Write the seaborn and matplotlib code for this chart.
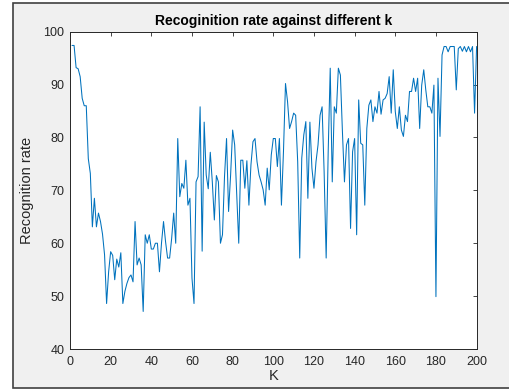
import numpy as np
import pandas as pd
import matplotlib
matplotlib.use("Agg")
import matplotlib.pyplot as plt
import matplotlib.patches as patches
import seaborn as sns

# -------------------------------------------------------------------
# Data (recognition rate for k = 1..200)
# -------------------------------------------------------------------

k_values = list(range(1, 201))

rate_1_50 = [
    97.4, 97.4, 93.2, 93.0, 91.5, 87.4, 86.0, 86.0, 76.0, 73.2,
    63.1, 68.5, 63.1, 65.7, 64.1, 61.7, 57.8, 48.6, 54.6, 58.4,
    57.7, 53.1, 57.0, 55.5, 58.2, 48.6, 50.9, 52.4, 53.5, 54.0,
    52.7, 64.1, 55.9, 57.2, 55.9, 47.1, 61.6, 60.0, 61.6, 58.9,
    58.9, 60.0, 60.0, 54.6, 60.0, 64.1, 60.3, 57.2, 57.2, 60.9,
]
rate_51_100 = [
    65.7, 60.0, 79.8, 68.8, 71.3, 70.4, 75.7, 67.2, 68.5, 53.4,
    48.6, 71.6, 72.6, 85.8, 58.5, 82.9, 72.9, 70.3, 77.2, 71.6,
    64.4, 72.8, 71.6, 60.0, 61.6, 72.6, 79.8, 66.0, 72.9, 81.4,
    78.6, 69.1, 60.0, 75.7, 75.7, 70.4, 75.6, 67.2, 74.8, 79.2,
    79.8, 75.4, 72.9, 71.6, 70.1, 67.2, 74.2, 70.1, 76.7, 79.8,
]
rate_101_150 = [
    79.8, 74.5, 79.8, 67.2, 77.3, 90.2, 86.8, 81.7, 83.0, 84.6,
    84.2, 75.4, 57.2, 76.1, 80.5, 83.0, 68.5, 82.9, 74.2, 70.4,
    75.4, 78.6, 84.2, 85.8, 73.5, 57.2, 77.3, 93.1, 71.6, 85.8,
    84.6, 93.1, 91.8, 81.1, 71.6, 78.6, 79.8, 62.8, 77.3, 79.8,
    61.6, 87.1, 78.9, 78.6, 67.2, 81.7, 86.1, 87.1, 83.0, 85.8,
]
rate_151_200 = [
    84.6, 88.7, 84.4, 87.1, 87.4, 88.3, 91.5, 84.6, 92.8, 84.9,
    81.7, 85.8, 81.4, 80.2, 84.2, 83.0, 88.7, 88.7, 91.2, 88.7,
    91.2, 81.7, 89.9, 92.8, 89.0, 85.8, 85.8, 84.6, 89.9, 49.9,
    91.2, 80.2, 95.6, 97.2, 97.2, 96.2, 97.2, 97.2, 97.2, 89.0,
    96.8, 97.2, 96.3, 97.2, 96.2, 97.2, 96.2, 97.2, 84.6, 97.2,
]

rates = rate_1_50 + rate_51_100 + rate_101_150 + rate_151_200
df = pd.DataFrame({"k": k_values, "rate": rates})

x_ticks = list(range(0, 201, 20))
y_ticks = list(range(40, 101, 10))

# -------------------------------------------------------------------
# Figure (MATLAB look)
# -------------------------------------------------------------------

sns.set_style("white")
plt.rcParams["font.family"] = ["Liberation Sans", "DejaVu Sans"]

TXT = "#262626"
fig = plt.figure(figsize=(5.09, 3.90), dpi=100, facecolor="white")

# grey window area with its frame
W, H = 509, 390
fig.add_artist(patches.Rectangle((12.5 / W, 2 / H), 1.0, (388 - 3) / H,
                                 transform=fig.transFigure, facecolor="#f0f0f0",
                                 edgecolor="#404040", linewidth=1.2, zorder=-10))

ax = fig.add_axes([70 / W, 1 - 349 / H, (476.6 - 70) / W, (349 - 31.7) / H])
ax.set_facecolor("white")

sns.lineplot(data=df, x="k", y="rate", ax=ax, color="#0072BD", linewidth=0.75)

ax.set_xlim(0, 200)
ax.set_ylim(40, 100)
ax.set_xticks(x_ticks)
ax.set_yticks(y_ticks)
ax.tick_params(direction="in", length=3, width=0.6, colors=TXT,
               labelsize=9, top=True, right=True)
ax.tick_params(axis="x", pad=5)
ax.tick_params(axis="y", pad=4)
for s in ax.spines.values():
    s.set_visible(True)
    s.set_color(TXT)
    s.set_linewidth(0.7)

ax.set_title("Recoginition rate against different k", fontsize=10,
             fontweight="bold", color="black", pad=5)
ax.set_xlabel("K", fontsize=10.5, color=TXT, labelpad=1)
ax.set_ylabel("Recognition rate", fontsize=10.5, color=TXT, labelpad=7)

fig.savefig("out.png", dpi=100, facecolor="white")
